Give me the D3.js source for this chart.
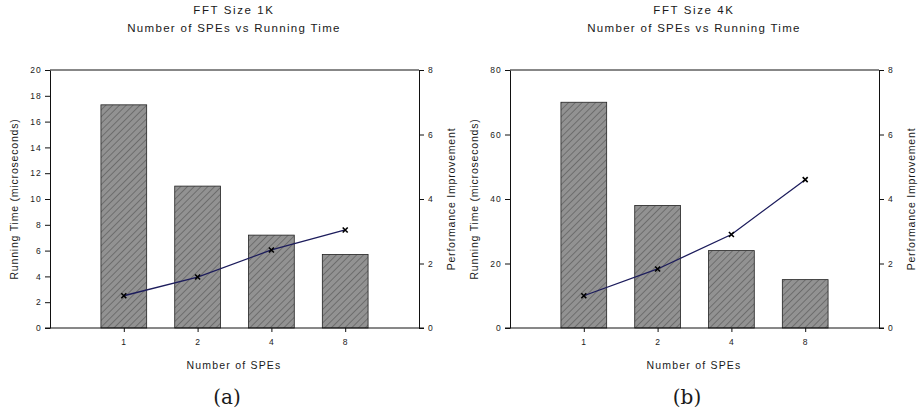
<!DOCTYPE html>
<html lang="en">
<head>
<meta charset="UTF-8">
<title>FFT SPEs</title>
<style>
  body { margin: 0; background: #fff; }
  svg text { font-family: "Liberation Sans", Arial, sans-serif; fill: #1a1a1a; }
</style>
</head>
<body>
<div id="wrapper"></div>
<script src="https://d3js.org/d3.v7.min.js"></script>
<script>
// data
const speCounts = ["1", "2", "4", "8"];
const time1K = [17.3, 11.0, 7.2, 5.7];
const perf1K = [1.0, 1.58, 2.42, 3.04];
const time4K = [70, 38, 24, 15];
const perf4K = [1.0, 1.83, 2.9, 4.6];
const ticks1K = [0, 2, 4, 6, 8, 10, 12, 14, 16, 18, 20];
const ticks4K = [0, 20, 40, 60, 80];
const perfTicks = [0, 2, 4, 6, 8];

const width = 918, height = 414;
const svg = d3.select('#wrapper').append('svg')
    .attr('width', width).attr('height', height);

// hatch pattern for bars
const pat = svg.append('defs').append('pattern')
    .attr('id', 'hatch')
    .attr('patternUnits', 'userSpaceOnUse')
    .attr('width', 4.8).attr('height', 4.8)
    .attr('patternTransform', 'rotate(45)');
pat.append('rect').attr('width', 4.8).attr('height', 4.8).attr('fill', '#929292');
pat.append('line').attr('x1', 0).attr('y1', 0).attr('x2', 0).attr('y2', 4.8)
    .attr('stroke', '#2a2a2a').attr('stroke-width', 0.7);

function drawChart(offsetX, title, times, perfs, yTicks, yMax, tag) {
    const g = svg.append('g').attr('transform', `translate(${offsetX},0)`);
    const left = 50, right = 419, top = 70, bottom = 328;

    const x = d3.scalePoint()
        .domain(["", ...speCounts, " "])
        .range([left, right]);
    const step = x.step();
    const barW = step * 0.62;
    const y = d3.scaleLinear().domain([0, yMax]).range([bottom, top]);
    const y2 = d3.scaleLinear().domain([0, 8]).range([bottom, top]);

    // titles
    g.append('text').attr('x', 234).attr('y', 14).attr('text-anchor', 'middle')
        .style('font-size', '11.5px').style('letter-spacing', '1.6px').text(title);
    g.append('text').attr('x', 234).attr('y', 32).attr('text-anchor', 'middle')
        .style('font-size', '11.5px').style('letter-spacing', '1.3px').text('Number of SPEs vs Running Time');

    // bars
    g.append('g').selectAll('rect')
        .data(times)
        .join('rect')
        .attr('x', (d, i) => x(speCounts[i]) - barW / 2)
        .attr('y', d => y(d))
        .attr('width', barW)
        .attr('height', d => bottom - y(d))
        .attr('fill', 'url(#hatch)')
        .attr('stroke', '#222').attr('stroke-width', 0.8);

    // frame top line
    g.append('line').attr('x1', left).attr('x2', right).attr('y1', top).attr('y2', top)
        .attr('stroke', '#111').attr('stroke-width', 1);

    // left axis
    const yAxis = g.append('g').attr('transform', `translate(${left},0)`)
        .call(d3.axisLeft(y).tickValues(yTicks).tickSize(5).tickPadding(3).tickSizeOuter(0));
    // right axis
    const y2Axis = g.append('g').attr('transform', `translate(${right},0)`)
        .call(d3.axisRight(y2).tickValues(perfTicks).tickSize(5).tickPadding(4).tickSizeOuter(0));
    // bottom axis
    const xAxis = g.append('g').attr('transform', `translate(0,${bottom})`)
        .call(d3.axisBottom(x).tickValues(speCounts).tickSize(4).tickPadding(7).tickSizeOuter(0));

    [yAxis, y2Axis, xAxis].forEach(a => {
        a.selectAll('text').style('font-size', '8.5px').style('letter-spacing', '1.2px')
            .style('font-family', '"Liberation Sans", Arial, sans-serif').attr('fill', '#1a1a1a');
        a.selectAll('line, path').attr('stroke', '#111');
    });
    xAxis.select('.domain').attr('d', `M${left - 5},0H${right + 5}`);

    // axis titles
    g.append('text')
        .attr('transform', `translate(18,${(top + bottom) / 2}) rotate(-90)`)
        .attr('text-anchor', 'middle').style('font-size', '10.5px').style('letter-spacing', '0.8px')
        .text('Running Time (microseconds)');
    g.append('text')
        .attr('transform', `translate(${right + 36},${(top + bottom) / 2}) rotate(-90)`)
        .attr('text-anchor', 'middle').style('font-size', '10.5px').style('letter-spacing', '0.8px')
        .text('Performance Improvement');
    g.append('text').attr('x', 234).attr('y', 369).attr('text-anchor', 'middle')
        .style('font-size', '10.5px').style('letter-spacing', '1.2px').text('Number of SPEs');
    g.append('text').attr('x', 227).attr('y', 404).attr('text-anchor', 'middle')
        .style('font-size', '20px').style('font-family', '"DejaVu Serif", "Liberation Serif", serif')
        .text(tag);

    // performance line
    const line = d3.line()
        .x((d, i) => x(speCounts[i]))
        .y(d => y2(d));
    g.append('path').datum(perfs).attr('d', line)
        .attr('fill', 'none').attr('stroke', '#1c1c5c').attr('stroke-width', 1.3);
    const s = 2.5;
    g.append('g').selectAll('path')
        .data(perfs)
        .join('path')
        .attr('d', (d, i) => {
            const px = x(speCounts[i]), py = y2(d);
            return `M${px - s},${py - s}L${px + s},${py + s}M${px - s},${py + s}L${px + s},${py - s}`;
        })
        .attr('stroke', '#000').attr('stroke-width', 1.6);
}

drawChart(0, 'FFT Size 1K', time1K, perf1K, ticks1K, 20, '(a)');
drawChart(460, 'FFT Size 4K', time4K, perf4K, ticks4K, 80, '(b)');
</script>
</body>
</html>
